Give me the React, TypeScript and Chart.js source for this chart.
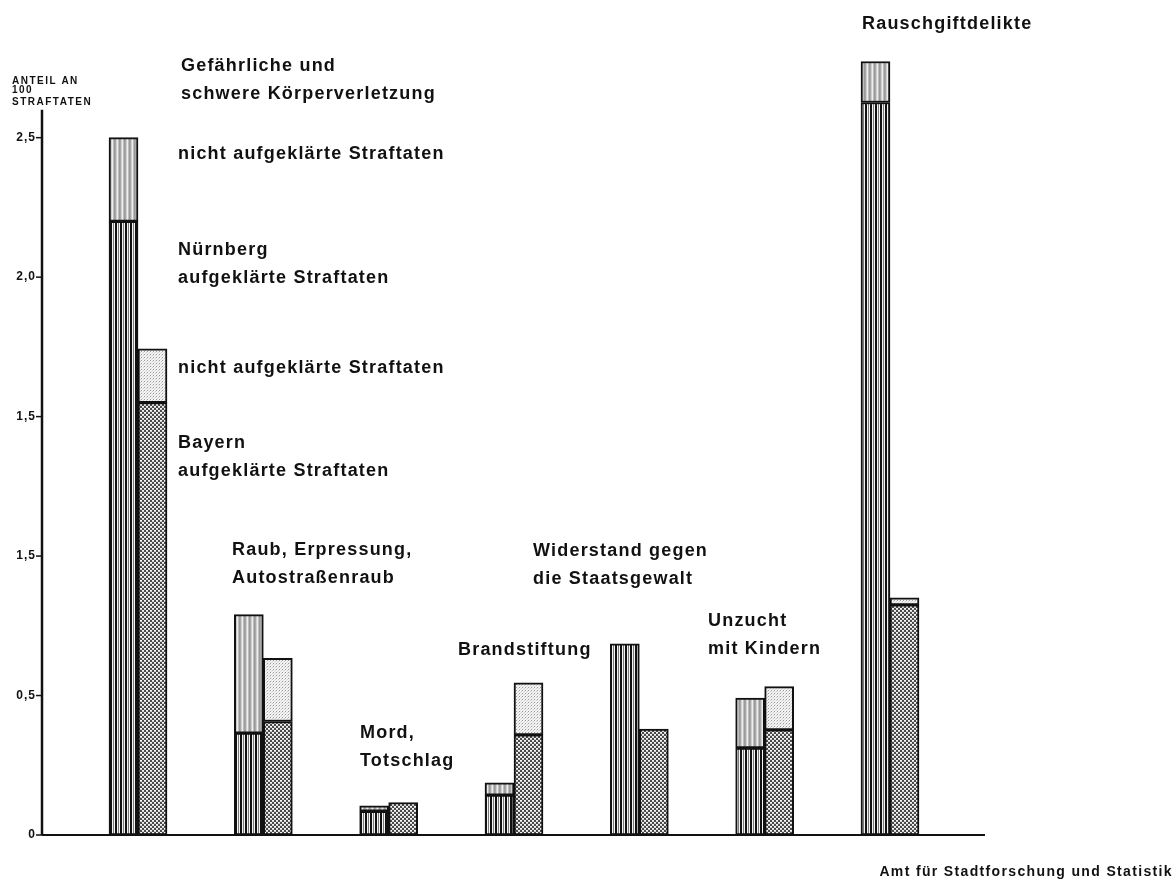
import { useEffect, useRef } from "react";
import { Chart, registerables } from "chart.js";

Chart.register(...registerables);

const categories = [
  "Gefährliche und schwere Körperverletzung",
  "Raub, Erpressung, Autostraßenraub",
  "Mord, Totschlag",
  "Brandstiftung",
  "Widerstand gegen die Staatsgewalt",
  "Unzucht mit Kindern",
  "Rauschgiftdelikte",
];
const nuernbergAufgeklaert = [2.2, 0.365, 0.085, 0.143, 0.685, 0.312, 2.626];
const nuernbergNichtAufgeklaert = [0.3, 0.425, 0.02, 0.044, 0, 0.179, 0.147];
const bayernAufgeklaert = [1.55, 0.407, 0.116, 0.359, 0.38, 0.377, 0.825];
const bayernNichtAufgeklaert = [0.193, 0.226, 0, 0.187, 0, 0.155, 0.025];
const yTickValues = [0, 0.5, 1, 1.5, 2, 2.5];
const yTickLabels = ["0", "0,5", "1,5", "1,5", "2,0", "2,5"];
const axisTitle = ["ANTEIL AN", "100", "STRAFTATEN"];
const source = "Amt für Stadtforschung und Statistik";

type Note = { lines: string[]; x: number; y: number };
const notes: Note[] = [
  { lines: ["Rauschgiftdelikte"], x: 862, y: 24 },
  { lines: ["Gefährliche und", "schwere Körperverletzung"], x: 181, y: 66 },
  { lines: ["nicht aufgeklärte Straftaten"], x: 178, y: 154 },
  { lines: ["Nürnberg", "aufgeklärte Straftaten"], x: 178, y: 250 },
  { lines: ["nicht aufgeklärte Straftaten"], x: 178, y: 368 },
  { lines: ["Bayern", "aufgeklärte Straftaten"], x: 178, y: 443 },
  { lines: ["Raub, Erpressung,", "Autostraßenraub"], x: 232, y: 550 },
  { lines: ["Widerstand gegen", "die Staatsgewalt"], x: 533, y: 551 },
  { lines: ["Unzucht", "mit Kindern"], x: 708, y: 621 },
  { lines: ["Brandstiftung"], x: 458, y: 650 },
  { lines: ["Mord,", "Totschlag"], x: 360, y: 733 },
];

function makePattern(w: number, h: number, draw: (c: CanvasRenderingContext2D) => void) {
  const tile = document.createElement("canvas");
  tile.width = w;
  tile.height = h;
  const c = tile.getContext("2d")!;
  draw(c);
  return c.createPattern(tile, "repeat")!;
}

function px(c: CanvasRenderingContext2D, color: string, x: number, y: number, w = 1, h = 1) {
  c.fillStyle = color;
  c.fillRect(x, y, w, h);
}

export default function App() {
  const ref = useRef<HTMLCanvasElement | null>(null);

  useEffect(() => {
    const canvas = ref.current;
    if (!canvas) return;

    const stripesDark = makePattern(5, 1, (c) => {
      px(c, "#f4f4f4", 0, 0, 5, 1);
      px(c, "#111", 0, 0, 2, 1);
      px(c, "#7a7a7a", 3, 0);
    });
    const stripesLight = makePattern(5, 1, (c) => {
      px(c, "#a8a8a8", 0, 0);
      px(c, "#cfcfcf", 1, 0);
      px(c, "#eeeeee", 2, 0);
      px(c, "#bdbdbd", 3, 0);
      px(c, "#9a9a9a", 4, 0);
    });
    const dotsDark = makePattern(4, 4, (c) => {
      px(c, "#4a4a4a", 0, 0, 4, 4);
      px(c, "#f6f6f6", 0, 0, 2, 1);
      px(c, "#d0d0d0", 0, 1, 2, 1);
      px(c, "#f6f6f6", 2, 2, 2, 1);
      px(c, "#d0d0d0", 2, 3, 2, 1);
    });
    const dotsLight = makePattern(3, 3, (c) => {
      px(c, "#f3f3f3", 0, 0, 3, 3);
      px(c, "#9a9a9a", 0, 0);
      px(c, "#cccccc", 2, 1);
      px(c, "#dddddd", 1, 2);
    });

    const toPoints = (arr: number[]) =>
      arr.map((v, i) => ({ x: i, y: v === 0 ? null : v }));

    const overlay = {
      id: "overlay",
      beforeDraw(chart: any) {
        const ctx = chart.ctx;
        ctx.save();
        ctx.fillStyle = "#ffffff";
        ctx.fillRect(0, 0, chart.width, chart.height);
        ctx.restore();
      },
      afterDraw(chart: any) {
        const ctx: CanvasRenderingContext2D = chart.ctx;
        const ys = chart.scales.y;
        const area = chart.chartArea;
        const y0 = ys.getPixelForValue(0);
        const yTop = ys.getPixelForValue(2.6);
        ctx.save();
        ctx.strokeStyle = "#111";
        ctx.lineWidth = 2.5;
        ctx.beginPath();
        ctx.moveTo(area.left, yTop);
        ctx.lineTo(area.left, y0);
        ctx.stroke();
        ctx.lineWidth = 2;
        ctx.beginPath();
        ctx.moveTo(area.left, y0);
        ctx.lineTo(area.right, y0);
        ctx.stroke();

        ctx.fillStyle = "#111";
        ctx.lineWidth = 1.5;
        ctx.font = "bold 12px 'Liberation Sans', Arial, sans-serif";
        (ctx as any).letterSpacing = "1px";
        ctx.textAlign = "right";
        ctx.textBaseline = "middle";
        yTickValues.forEach((v, i) => {
          const yy = ys.getPixelForValue(v);
          ctx.beginPath();
          ctx.moveTo(area.left - 6, yy);
          ctx.lineTo(area.left, yy);
          ctx.stroke();
          ctx.fillText(yTickLabels[i], area.left - 6, yy);
        });

        ctx.textAlign = "left";
        ctx.font = "bold 10px 'Liberation Sans', Arial, sans-serif";
        (ctx as any).letterSpacing = "1.5px";
        const titleY = [81, 90.5, 102];
        axisTitle.forEach((t, i) => ctx.fillText(t, 12, titleY[i]));

        ctx.font = "bold 18px 'Liberation Sans', Arial, sans-serif";
        (ctx as any).letterSpacing = "1.2px";
        notes.forEach((n) => {
          n.lines.forEach((l, i) => ctx.fillText(l, n.x, n.y + i * 28));
        });

        ctx.font = "bold 14px 'Liberation Sans', Arial, sans-serif";
        (ctx as any).letterSpacing = "1.35px";
        ctx.textAlign = "right";
        ctx.fillText(source, 1173, 872);
        ctx.restore();
      },
    };

    const common = {
      borderColor: "#111",
      borderWidth: 2,
      borderSkipped: false as const,
      barThickness: 29,
    };

    const chart = new Chart(canvas, {
      type: "bar",
      data: {
        labels: categories,
        datasets: [
          { ...common, label: "Nürnberg aufgeklärte Straftaten", stack: "N", data: toPoints(nuernbergAufgeklaert) as any, backgroundColor: stripesDark as any },
          { ...common, label: "Nürnberg nicht aufgeklärte Straftaten", stack: "N", data: toPoints(nuernbergNichtAufgeklaert) as any, backgroundColor: stripesLight as any },
          { ...common, label: "Bayern aufgeklärte Straftaten", stack: "B", data: toPoints(bayernAufgeklaert) as any, backgroundColor: dotsDark as any },
          { ...common, label: "Bayern nicht aufgeklärte Straftaten", stack: "B", data: toPoints(bayernNichtAufgeklaert) as any, backgroundColor: dotsLight as any },
        ],
      },
      options: {
        responsive: false,
        animation: false,
        events: [],
        layout: { padding: { left: 42, right: 189, top: 54, bottom: 45 } },
        plugins: { legend: { display: false }, tooltip: { enabled: false }, title: { display: false } },
        scales: {
          x: { type: "linear", offset: false, min: -0.766, max: 6.758, stacked: true, display: false, grid: { display: false } },
          y: { min: 0, max: 2.8, stacked: true, display: false, grid: { display: false } },
        },
      },
      plugins: [overlay],
    });

    return () => chart.destroy();
  }, []);

  return (
    <div style={{ position: "absolute", left: 0, top: 0, width: 1174, height: 880 }}>
      <canvas ref={ref} width={1174} height={880} style={{ display: "block" }} />
    </div>
  );
}
